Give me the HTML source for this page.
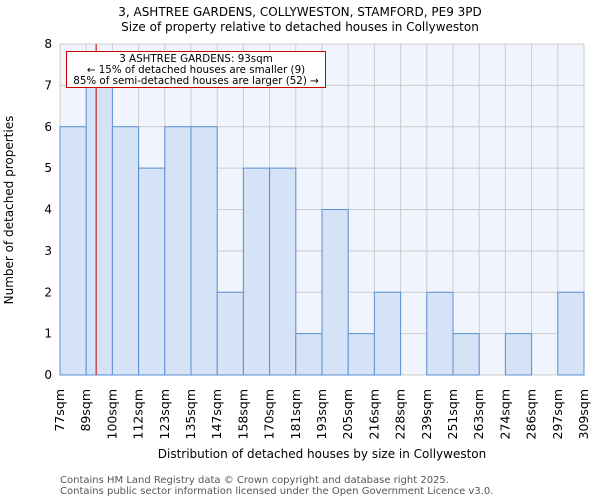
<!DOCTYPE html>
<html><head><meta charset="utf-8"><style>
body{margin:0;background:#fff;font-family:"DejaVu Sans","Liberation Sans",sans-serif}
svg text{font-family:"DejaVu Sans","Liberation Sans",sans-serif}
</style></head><body>
<svg id="c" width="600" height="500">
<text x="300" y="16" text-anchor="middle" font-size="12">3, ASHTREE GARDENS, COLLYWESTON, STAMFORD, PE9 3PD</text>
<text x="300" y="31" text-anchor="middle" font-size="12">Size of property relative to detached houses in Collyweston</text>
<rect x="60" y="44" width="524" height="331" fill="#f0f4fc"/>
<g id="grid"></g><g id="bars"></g><g id="axes"></g>
<text transform="translate(13,210) rotate(-90)" text-anchor="middle" font-size="12">Number of detached properties</text>
<text x="322" y="458" text-anchor="middle" font-size="12">Distribution of detached houses by size in Collyweston</text>
<text x="60" y="483" font-size="10" fill="#555">Contains HM Land Registry data © Crown copyright and database right 2025.</text>
<text x="60" y="494" font-size="10" fill="#555">Contains public sector information licensed under the Open Government Licence v3.0.</text>
</svg>
<script>
const binLabels=["77sqm","89sqm","100sqm","112sqm","123sqm","135sqm","147sqm","158sqm","170sqm","181sqm","193sqm","205sqm","216sqm","228sqm","239sqm","251sqm","263sqm","274sqm","286sqm","297sqm","309sqm"];
const counts=[6,7,6,5,6,6,2,5,5,1,4,1,2,0,2,1,0,1,0,2];
const yTicks=[0,1,2,3,4,5,6,7,8];
const binStart=77, binWidth=11.6, propertySize=93;
const X0=60,X1=584,Y0=375,Y1=44;
const bw=(X1-X0)/counts.length;
const xi=i=>X0+i*bw;
const xv=v=>X0+(v-binStart)/binWidth*bw;
const y=v=>Y0-(v/8)*(Y0-Y1);
const NS="http://www.w3.org/2000/svg";
function mk(tag,attrs,parent,txt){const e=document.createElementNS(NS,tag);for(const k in attrs)e.setAttribute(k,attrs[k]);if(txt!==undefined)e.textContent=txt;document.getElementById(parent).appendChild(e);return e;}
yTicks.forEach(t=>{
 const g=mk('line',{x1:X0,x2:X1,y1:y(t),y2:y(t),stroke:'#ccc','stroke-width':1},'grid');
 
 
 const l=mk('text',{x:X0-8,y:y(t)+4,'text-anchor':'end','font-size':12},'axes',t);
 
 
});
binLabels.forEach((s,i)=>{
 const g=mk('line',{x1:xi(i),x2:xi(i),y1:Y1,y2:Y0,stroke:'#ccc','stroke-width':1},'grid');
 
 
 const l=mk('text',{transform:`translate(${xi(i)+4},${Y0+14}) rotate(-90)`,'text-anchor':'end','font-size':12.5},'axes',s);
 
 
});
counts.forEach((c,i)=>{
 const r=mk('rect',{x:xi(i),y:y(c),width:bw,height:Y0-y(c),fill:'#d6e2f5',stroke:'#5b8fd6','stroke-width':1},'bars');
 
 
});
const rl=mk('line',{x1:xv(propertySize),x2:xv(propertySize),y1:Y1,y2:Y0,stroke:'#cc0000','stroke-width':1},'axes');


const box=mk('rect',{x:66.5,y:51.5,width:259,height:36,fill:'#fff',stroke:'#cc0000','stroke-width':1},'axes');


["3 ASHTREE GARDENS: 93sqm","← 15% of detached houses are smaller (9)","85% of semi-detached houses are larger (52) →"].forEach((s,i)=>{
 const t=mk('text',{x:196,y:62+i*11,'text-anchor':'middle','font-size':10.3},'axes',s);
 
 
});
</script>
</body></html>
